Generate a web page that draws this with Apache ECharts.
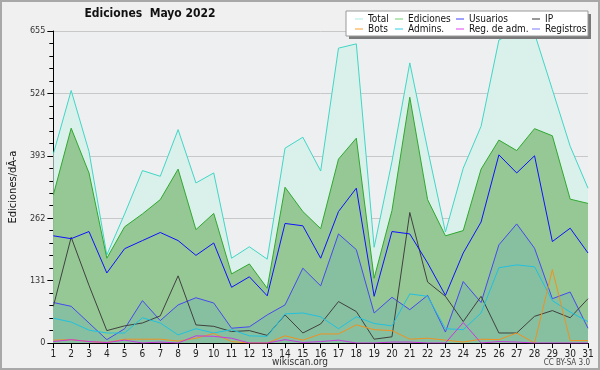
<!DOCTYPE html>
<html><head><meta charset="utf-8">
<script src="https://cdn.jsdelivr.net/npm/echarts@6/dist/echarts.min.js"></script>
<style>html,body{margin:0;padding:0;background:#f0f0f0}#c{width:600px;height:370px}</style>
</head><body><div id="c"></div>
<script>
const days = ['1','2','3','4','5','6','7','8','9','10','11','12','13','14','15','16','17','18','19','20','21','22','23','24','25','26','27','28','29','30','31'];
const yTicks = [0, 131, 262, 393, 524, 655];
const total = [397, 530, 402, 185, 271, 362, 350, 448, 336, 357, 178, 202, 176, 409, 432, 361, 619, 628, 201, 381, 588, 407, 233, 367, 455, 636, 655, 650, 532, 413, 325];
const ediciones = [311, 451, 357, 178, 244, 271, 301, 365, 238, 272, 145, 166, 115, 327, 276, 240, 386, 430, 136, 278, 516, 301, 225, 236, 365, 426, 404, 450, 435, 302, 293];
const usuarios = [225, 219, 234, 147, 198, 215, 232, 215, 184, 210, 117, 139, 99, 251, 246, 178, 276, 325, 98, 234, 229, 168, 100, 189, 254, 395, 357, 393, 213, 241, 189];
const ip = [77, 222, 121, 26, 36, 42, 57, 141, 38, 35, 24, 26, 16, 59, 21, 40, 87, 66, 8, 13, 274, 128, 98, 45, 98, 21, 21, 56, 68, 53, 93];
const bots = [6, 7, 3, 1, 8, 8, 8, 4, 10, 20, 3, 0, 0, 15, 6, 19, 19, 38, 28, 26, 8, 10, 6, 2, 8, 7, 21, 0, 154, 5, 5];
const admins = [52, 44, 27, 21, 21, 53, 42, 17, 30, 21, 28, 15, 14, 61, 63, 55, 30, 55, 41, 36, 103, 98, 30, 28, 63, 158, 164, 160, 89, 65, 45];
const regAdm = [3, 7, 3, 1, 6, 0, 2, 0, 15, 14, 10, 0, 0, 7, 1, 3, 6, 0, 0, 2, 2, 0, 0, 43, 0, 3, 2, 0, 0, 0, 0];
const registros = [85, 77, 42, 7, 30, 89, 47, 80, 95, 84, 31, 34, 59, 80, 157, 120, 229, 196, 63, 96, 70, 100, 23, 129, 85, 206, 250, 199, 93, 107, 31];

const F = "'DejaVu Sans Condensed', 'DejaVu Sans'";
function line(name, data, color, z, area, legendColor) {
  const s = {
    name, type: 'line', data, symbol: 'none', z,
    lineStyle: { color, width: 1 },
    itemStyle: { color: legendColor || color },
    emphasis: { disabled: true }, animation: false
  };
  if (area) s.areaStyle = { color: area, opacity: 1 };
  return s;
}
const chart = echarts.init(document.getElementById('c'), null, { renderer: 'canvas' });
const legBase = { orient: 'vertical', top: 14, itemWidth: 8, itemHeight: 1, itemGap: 0, padding: 0, icon: 'rect', z: 30,
  textStyle: { fontFamily: F, fontSize: 10, lineHeight: 10, color: '#111', padding: [0,0,0,0] }, selectedMode: false };
chart.setOption({
  backgroundColor: '#f0f0f0',
  animation: false,
  grid: { left: 46, right: 12, top: 31, bottom: 27, show: true, backgroundColor: '#eeeff1', borderWidth: 0 },
  legend: [
    Object.assign({}, legBase, { left: 355, data: ['Total', 'Bots'] }),
    Object.assign({}, legBase, { left: 395, data: ['Ediciones', 'Admins.'] }),
    Object.assign({}, legBase, { left: 456, data: ['Usuarios', 'Reg. de adm.'] }),
    Object.assign({}, legBase, { left: 532, data: ['IP', 'Registros'] })
  ],
  xAxis: {
    type: 'category', data: days, boundaryGap: false,
    axisLine: { lineStyle: { color: '#000', width: 1 } },
    axisTick: { show: true, length: 5, inside: false, alignWithLabel: true, lineStyle: { color: '#000' } },
    axisLabel: { interval: 0, fontFamily: F, fontSize: 10, color: '#222', margin: 6 },
    splitLine: { show: false }
  },
  yAxis: {
    type: 'value', min: 0, max: yTicks[yTicks.length - 1], interval: 131,
    name: 'Ediciones/dÃ-a', nameLocation: 'middle', nameGap: 32, nameRotate: 90,
    nameTextStyle: { fontFamily: F, fontSize: 11, color: '#111' },
    axisLine: { show: true, lineStyle: { color: '#000', width: 1 } },
    axisTick: { show: true, length: 6, lineStyle: { color: '#000' } },
    minorTick: { show: true, splitNumber: 5, length: 4, lineStyle: { color: '#000' } },
    axisLabel: { fontFamily: F, fontSize: 9, color: '#333', margin: 8 },
    splitLine: { show: true, lineStyle: { color: '#c8c8c8', width: 1 } }
  },
  series: [
    line('Total', total, '#3fd6c6', 2, '#d9f1ea', '#a8ece4'),
    line('Ediciones', ediciones, '#2fa82f', 3, '#96c896', '#70d070'),
    line('Registros', registros, '#4848f0', 4, '#86c0a0', '#7878ff'),
    line('IP', ip, '#404040', 5, null, '#333333'),
    line('Admins.', admins, '#22c0e0', 5, null, '#30d0e8'),
    line('Bots', bots, '#f09020', 5, null, '#f8a030'),
    line('Reg. de adm.', regAdm, '#c838e0', 6, null, '#e040f0'),
    line('Usuarios', usuarios, '#1010ff', 6, null, '#4040ff')
  ],
  graphic: [
    { type: 'rect', shape: { x: 1, y: 1, width: 598, height: 368 }, style: { fill: 'none', stroke: '#a8a8a8', lineWidth: 2 }, z: 40, silent: true },
    { type: 'rect', shape: { x: 349, y: 14, width: 242, height: 25 }, style: { fill: '#7a7a7a' }, z: 20, silent: true },
    { type: 'rect', shape: { x: 346, y: 11, width: 242, height: 25 }, style: { fill: '#ffffff', stroke: '#999999', lineWidth: 1 }, z: 21, silent: true },
    { type: 'text', x: 150, y: 14, style: { text: 'Ediciones  Mayo 2022', fontFamily: F, fontSize: 12, fontWeight: 'bold', fill: '#111', textAlign: 'center', textVerticalAlign: 'middle' }, z: 30 },
    { type: 'text', x: 300, y: 362, style: { text: 'wikiscan.org', fontFamily: F, fontSize: 10, fill: '#333', textAlign: 'center', textVerticalAlign: 'middle' }, z: 30 },
    { type: 'text', x: 590, y: 363, style: { text: 'CC BY-SA 3.0', fontFamily: F, fontSize: 8, fill: '#444', textAlign: 'right', textVerticalAlign: 'middle' }, z: 30 }
  ]
});
</script></body></html>
